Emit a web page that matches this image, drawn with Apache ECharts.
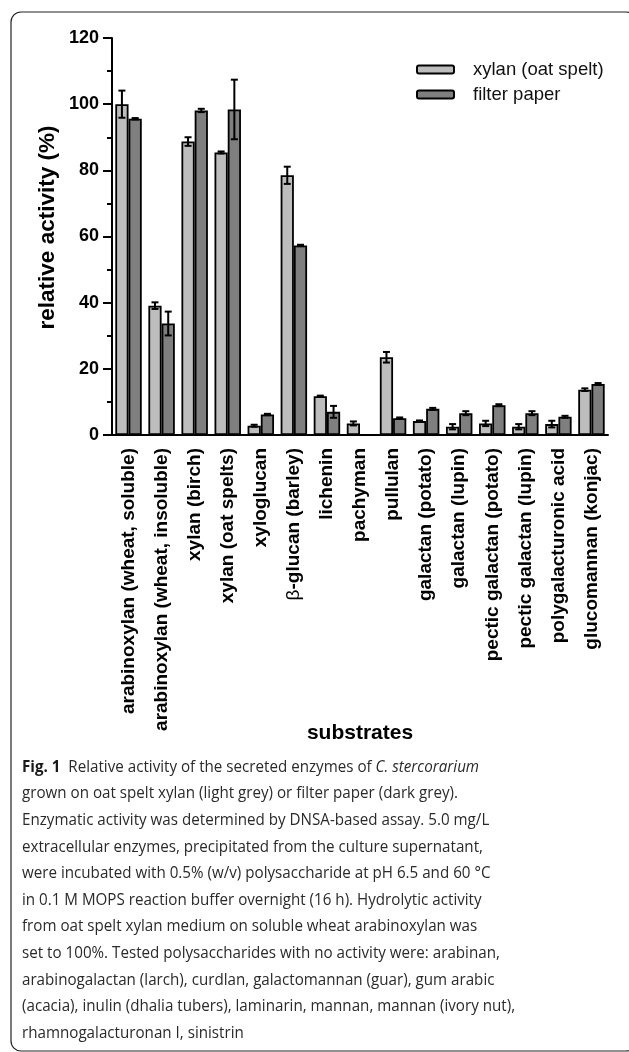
<!DOCTYPE html>
<html>
<head>
<meta charset="utf-8">
<script src="https://cdn.jsdelivr.net/npm/echarts@6/dist/echarts.min.js"></script>
<style>
  html, body { margin: 0; padding: 0; background: #fff; }
  #chart { width: 629px; height: 1052px; }
</style>
</head>
<body>
<div id="chart"></div>
<script>
// Substrates tested (x categories)
const categories = [
  'arabinoxylan (wheat, soluble)',
  'arabinoxylan (wheat, insoluble)',
  'xylan (birch)',
  'xylan (oat spelts)',
  'xyloglucan',
  'β-glucan (barley)',
  'lichenin',
  'pachyman',
  'pullulan',
  'galactan (potato)',
  'galactan (lupin)',
  'pectic galactan (potato)',
  'pectic galactan (lupin)',
  'polygalacturonic acid',
  'glucomannan (konjac)'
];

// Relative activity (%) of enzymes grown on oat spelt xylan, with SD
const xylanOat    = [100, 39.1, 88.7, 85.4, 2.8, 78.5, 11.7, 3.5, 23.5, 4.2, 2.5, 3.5, 2.5, 3.3, 13.7];
const xylanOatErr = [4.1, 1.0, 1.3, 0.3, 0.3, 2.6, 0.2, 0.6, 1.6, 0.2, 0.8, 0.8, 0.8, 1.0, 0.4];

// Relative activity (%) of enzymes grown on filter paper, with SD (no activity on pachyman)
const filterPaper    = [95.6, 33.7, 98.1, 98.4, 6.2, 57.3, 7.0, null, 5.1, 7.9, 6.6, 9.0, 6.6, 5.5, 15.4];
const filterPaperErr = [0.2, 3.6, 0.5, 9.0, 0.2, 0.2, 1.8, null, 0.2, 0.3, 0.6, 0.3, 0.6, 0.3, 0.3];

// Value axis
const yMin = 0, yMax = 120, yStep = 20;

const seriesNames = ['xylan (oat spelt)', 'filter paper'];

// Caption lines
const captionLines = [
  '{b|Fig. 1}  Relative activity of the secreted enzymes of {i|C. stercorarium}',
  'grown on oat spelt xylan (light grey) or filter paper (dark grey).',
  'Enzymatic activity was determined by DNSA-based assay. 5.0 mg/L',
  'extracellular enzymes, precipitated from the culture supernatant,',
  'were incubated with 0.5% (w/v) polysaccharide at pH 6.5 and 60 °C',
  'in 0.1 M MOPS reaction buffer overnight (16 h). Hydrolytic activity',
  'from oat spelt xylan medium on soluble wheat arabinoxylan was',
  'set to 100%. Tested polysaccharides with no activity were: arabinan,',
  'arabinogalactan (larch), curdlan, galactomannan (guar), gum arabic',
  '(acacia), inulin (dhalia tubers), laminarin, mannan, mannan (ivory nut),',
  'rhamnogalacturonan I, sinistrin'
];

const SANS = '"Liberation Sans", Arial, Helvetica, sans-serif';
const CAP_FONT = '"Open Sans", "Noto Sans", sans-serif';
const LIGHT = '#bcbdbc';
const DARK = '#7f7f7f';

// Horizontal squeeze so the caption resembles a condensed text face
const capSize = 16.5;
const ctx = document.createElement('canvas').getContext('2d');
ctx.font = capSize + 'px ' + CAP_FONT;
const capScale = 436 / ctx.measureText(captionLines[1]).width;

function errorSeries(vals, errs, side) {
  return {
    type: 'custom',
    z: 5,
    silent: true,
    data: vals.map((v, i) => [i, v, errs[i]]).filter(d => d[1] != null && d[2] != null),
    renderItem: function (params, api) {
      const i = api.value(0), v = api.value(1), e = api.value(2);
      const band = api.size([1, 0])[0];
      const x = api.coord([i, v])[0] + side * band * 0.2;
      const yTop = api.coord([i, v + e])[1];
      const yBot = api.coord([i, v - e])[1];
      const cap = 3.5;
      const st = { stroke: '#000', lineWidth: 2 };
      return {
        type: 'group',
        children: [
          { type: 'line', shape: { x1: x, y1: yTop, x2: x, y2: yBot }, style: st },
          { type: 'line', shape: { x1: x - cap, y1: yTop, x2: x + cap, y2: yTop }, style: st },
          { type: 'line', shape: { x1: x - cap, y1: yBot, x2: x + cap, y2: yBot }, style: st }
        ]
      };
    }
  };
}

const chart = echarts.init(document.getElementById('chart'), null, { renderer: 'canvas' });

const graphics = [
  {
    type: 'rect',
    silent: true,
    shape: { x: 11, y: 12, width: 625, height: 1039, r: 10 },
    style: { fill: 'none', stroke: '#222', lineWidth: 1.2 }
  }
];
captionLines.forEach((t, k) => {
  graphics.push({
    type: 'text',
    silent: true,
    x: 22,
    y: 767 + k * 26.6,
    scaleX: capScale,
    style: {
      x: 0, y: 0,
      text: t,
      fill: '#2a2a2a',
      fontSize: capSize,
      fontFamily: CAP_FONT,
      verticalAlign: 'middle',
      align: 'left',
      rich: {
        b: { fontWeight: 'bold', fontSize: capSize, fontFamily: CAP_FONT, fill: '#1a1a1a' },
        i: { fontStyle: 'italic', fontSize: capSize, fontFamily: CAP_FONT, fill: '#2a2a2a' }
      }
    }
  });
});

chart.setOption({
  animation: false,
  backgroundColor: '#fff',
  grid: { left: 112, right: 21, top: 38, bottom: 617, containLabel: false },
  legend: {
    data: seriesNames,
    left: 416,
    top: 60,
    padding: 0,
    orient: 'vertical',
    icon: 'roundRect',
    itemWidth: 37,
    itemHeight: 8,
    itemGap: 6,
    itemStyle: { borderColor: '#000', borderWidth: 2 },
    textStyle: { fontFamily: SANS, fontSize: 18.5, color: '#111', padding: [0, 0, 0, 14] }
  },
  xAxis: {
    type: 'category',
    data: categories,
    boundaryGap: true,
    name: 'substrates',
    nameLocation: 'middle',
    nameGap: 288,
    nameMoveOverlap: false,
    nameTextStyle: { fontFamily: SANS, fontWeight: 'bold', fontSize: 21, color: '#000', verticalAlign: 'top' },
    axisLine: { lineStyle: { color: '#000', width: 2 } },
    axisTick: { alignWithLabel: true, length: 10, lineStyle: { color: '#000', width: 2 } },
    axisLabel: {
      interval: 0,
      rotate: 90,
      margin: 13,
      fontFamily: SANS,
      fontWeight: 'bold',
      fontSize: 19,
      color: '#000',
      formatter: function (v) {
        return v.charAt(0) === 'β' ? '{g|β}' + v.slice(1) : v;
      },
      rich: {
        g: { fontFamily: SANS, fontWeight: 'normal', fontSize: 19, color: '#000' }
      }
    }
  },
  yAxis: {
    type: 'value',
    min: yMin,
    max: yMax,
    interval: yStep,
    name: 'relative activity (%)',
    nameLocation: 'middle',
    nameGap: 53,
    nameMoveOverlap: false,
    nameTextStyle: { fontFamily: SANS, fontWeight: 'bold', fontSize: 22.5, color: '#000', padding: [0, 0, 0, 18] },
    axisLine: { show: true, lineStyle: { color: '#000', width: 2 } },
    axisTick: { show: true, length: 9, lineStyle: { color: '#000', width: 2 } },
    minorTick: { show: true, splitNumber: 2, length: 5, lineStyle: { color: '#000', width: 2 } },
    splitLine: { show: false },
    axisLabel: { margin: 13, fontFamily: SANS, fontWeight: 'bold', fontSize: 18, color: '#000' }
  },
  series: [
    {
      name: seriesNames[0],
      type: 'bar',
      data: xylanOat,
      barGap: '0%',
      barCategoryGap: '20%',
      itemStyle: { color: LIGHT, borderColor: '#000', borderWidth: 1.8 }
    },
    {
      name: seriesNames[1],
      type: 'bar',
      data: filterPaper.map(v => v == null ? '-' : v),
      barGap: '0%',
      barCategoryGap: '20%',
      itemStyle: { color: DARK, borderColor: '#000', borderWidth: 1.8 }
    },
    errorSeries(xylanOat, xylanOatErr, -1),
    errorSeries(filterPaper, filterPaperErr, 1)
  ],
  graphic: graphics
});
</script>
</body>
</html>
